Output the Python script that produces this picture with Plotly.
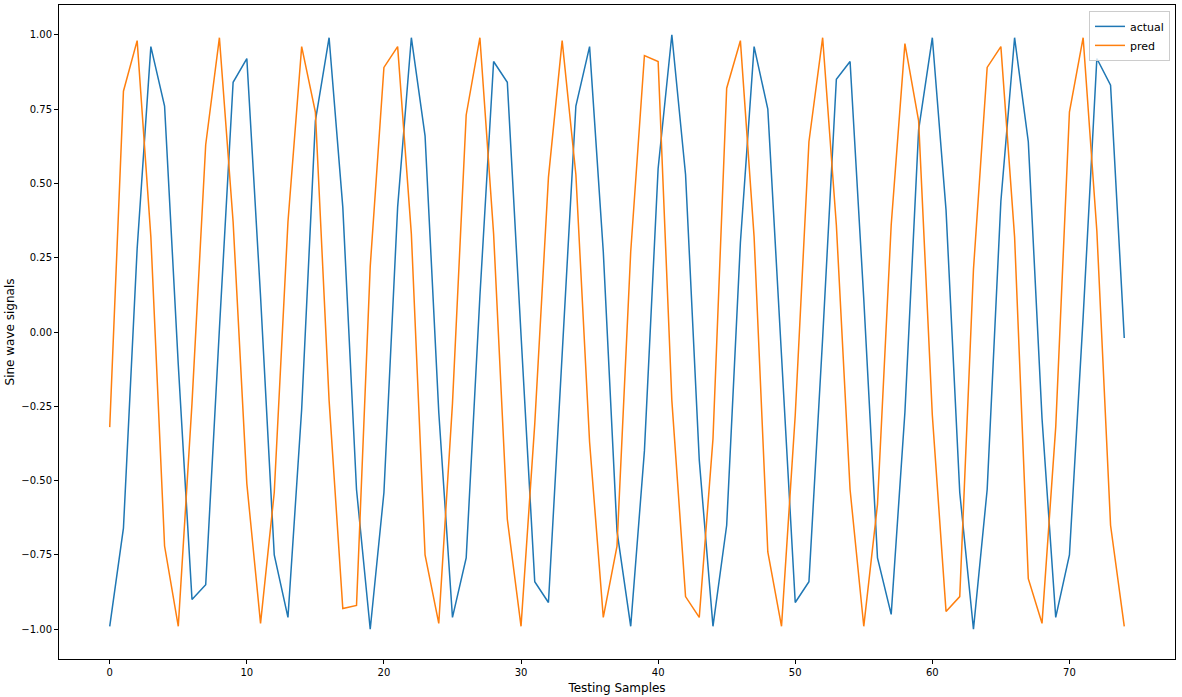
import plotly.graph_objects as go

samples = list(range(75))

actual = [-0.99, -0.66, 0.28, 0.96, 0.76, -0.11, -0.90, -0.85, 0.01, 0.84,
          0.92, 0.12, -0.75, -0.96, -0.26, 0.71, 0.99, 0.42, -0.53, -1.00,
          -0.54, 0.42, 0.99, 0.66, -0.27, -0.96, -0.76, 0.12, 0.91, 0.84,
          -0.01, -0.84, -0.91, -0.08, 0.76, 0.96, 0.27, -0.67, -0.99, -0.40,
          0.55, 1.00, 0.53, -0.43, -0.99, -0.65, 0.30, 0.96, 0.75, -0.08,
          -0.91, -0.84, -0.02, 0.85, 0.91, 0.11, -0.76, -0.95, -0.27, 0.68,
          0.99, 0.41, -0.54, -1.00, -0.53, 0.44, 0.99, 0.64, -0.29, -0.96,
          -0.75, 0.05, 0.92, 0.83, -0.02]

pred = [-0.32, 0.81, 0.98, 0.32, -0.72, -0.99, -0.24, 0.63, 0.99, 0.37,
        -0.51, -0.98, -0.54, 0.37, 0.96, 0.74, -0.23, -0.93, -0.92, 0.22,
        0.89, 0.96, 0.33, -0.75, -0.98, -0.24, 0.73, 0.99, 0.33, -0.63,
        -0.99, -0.31, 0.52, 0.98, 0.53, -0.37, -0.96, -0.72, 0.27, 0.93,
        0.91, -0.23, -0.89, -0.96, -0.36, 0.82, 0.98, 0.32, -0.74, -0.99,
        -0.28, 0.64, 0.99, 0.36, -0.53, -0.99, -0.58, 0.36, 0.97, 0.71,
        -0.28, -0.94, -0.89, 0.21, 0.89, 0.96, 0.32, -0.83, -0.98, -0.32,
        0.74, 0.99, 0.34, -0.65, -0.99]

x_ticks = [0, 10, 20, 30, 40, 50, 60, 70]
y_ticks = [-1.0, -0.75, -0.5, -0.25, 0.0, 0.25, 0.5, 0.75, 1.0]

fig = go.Figure()
fig.add_trace(go.Scatter(x=samples, y=actual, mode="lines", name="actual",
                         line=dict(color="#1f77b4", width=1.5)))
fig.add_trace(go.Scatter(x=samples, y=pred, mode="lines", name="pred",
                         line=dict(color="#ff7f0e", width=1.5)))

axis_style = dict(showgrid=False, zeroline=False, showline=True, mirror=True,
                  linecolor="black", linewidth=1, ticks="outside", ticklen=4,
                  tickcolor="black", tickfont=dict(size=10, color="black"))

fig.update_layout(
    width=1182, height=697,
    template="none",
    paper_bgcolor="white", plot_bgcolor="white",
    font=dict(family="DejaVu Sans", size=10, color="black"),
    margin=dict(l=59, r=7, t=5, b=38),
    xaxis=dict(range=[-3.7, 77.7], tickvals=x_ticks,
               title=dict(text="Testing Samples", standoff=6), **axis_style),
    yaxis=dict(range=[-1.1, 1.1], tickvals=y_ticks, tickformat=".2f",
               title=dict(text="Sine wave signals", standoff=4), **axis_style),
    legend=dict(x=0.9955, y=0.991, xanchor="right", yanchor="top",
                bgcolor="rgba(255,255,255,0.8)", bordercolor="#cccccc",
                borderwidth=1, font=dict(size=11)),
)

# drop the default page margin so the figure fills the window exactly
fig.write_html("out.html", config={"displayModeBar": False},
               post_script="document.body.style.margin='0';"
                           "document.body.style.overflow='hidden';")
